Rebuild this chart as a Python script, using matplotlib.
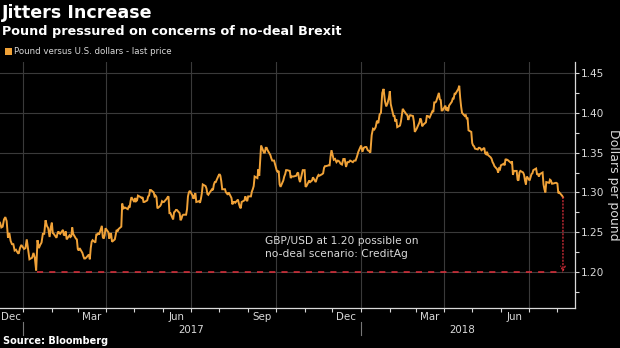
import matplotlib.pyplot as plt
import matplotlib.dates as mdates
import numpy as np
import pandas as pd

# GBP/USD daily closes, one list per calendar month
first_day = pd.Timestamp("2016-12-07")
last_day = pd.Timestamp("2018-08-07")
closes = {
    "2016-12": [1.2620, 1.2560, 1.2570, 1.2660, 1.2690, 1.2640, 1.2430, 1.2490, 1.2390,
                1.2350, 1.2350, 1.2270, 1.2280, 1.2250, 1.2230, 1.2300, 1.2340],
    "2017-01": [1.2290, 1.2300, 1.2410, 1.2280, 1.2160, 1.2170, 1.2180, 1.2240, 1.2180,
                1.2020, 1.2400, 1.2300, 1.2340, 1.2370, 1.2480, 1.2480, 1.2650, 1.2580,
                1.2550, 1.2440, 1.2570],
    "2017-02": [1.2620, 1.2490, 1.2480, 1.2430, 1.2480, 1.2510, 1.2490, 1.2480, 1.2530,
                1.2460, 1.2470, 1.2510, 1.2410, 1.2460, 1.2440, 1.2450, 1.2560, 1.2480,
                1.2420, 1.2410],
    "2017-03": [1.2290, 1.2270, 1.2300, 1.2240, 1.2200, 1.2170, 1.2170, 1.2180, 1.2220,
                1.2160, 1.2300, 1.2380, 1.2400, 1.2370, 1.2470, 1.2470, 1.2490, 1.2470,
                1.2580, 1.2440, 1.2420, 1.2460, 1.2550],
    "2017-04": [1.2500, 1.2420, 1.2480, 1.2480, 1.2380, 1.2410, 1.2470, 1.2530, 1.2510,
                1.2540, 1.2570, 1.2860, 1.2790, 1.2810, 1.2810, 1.2790, 1.2820, 1.2810,
                1.2890, 1.2940],
    "2017-05": [1.2880, 1.2930, 1.2890, 1.2900, 1.2960, 1.2940, 1.2930, 1.2940, 1.2880,
                1.2880, 1.2900, 1.2950, 1.2960, 1.3030, 1.3030, 1.3000, 1.2950, 1.2960,
                1.2940, 1.2800, 1.2830, 1.2850, 1.2890],
    "2017-06": [1.2880, 1.2880, 1.2920, 1.2940, 1.2950, 1.2740, 1.2740, 1.2660, 1.2750,
                1.2760, 1.2780, 1.2780, 1.2740, 1.2650, 1.2670, 1.2710, 1.2720, 1.2720,
                1.2790, 1.2950, 1.3000, 1.3020],
    "2017-07": [1.2960, 1.2920, 1.2960, 1.2990, 1.2880, 1.2890, 1.2870, 1.2920, 1.2990,
                1.3100, 1.3080, 1.3050, 1.2980, 1.2970, 1.2990, 1.3040, 1.3030, 1.3100,
                1.3130, 1.3130, 1.3210],
    "2017-08": [1.3230, 1.3210, 1.3140, 1.3040, 1.3040, 1.3000, 1.2990, 1.2970, 1.3000,
                1.2930, 1.2850, 1.2880, 1.2880, 1.2870, 1.2910, 1.2860, 1.2820, 1.2800,
                1.2880, 1.2900, 1.2950, 1.2910, 1.2890],
    "2017-09": [1.2950, 1.2950, 1.3010, 1.3040, 1.3080, 1.3200, 1.3180, 1.3290, 1.3210,
                1.3410, 1.3590, 1.3500, 1.3500, 1.3560, 1.3560, 1.3530, 1.3470, 1.3430,
                1.3400, 1.3400, 1.3400],
    "2017-10": [1.3270, 1.3260, 1.3270, 1.3100, 1.3070, 1.3150, 1.3200, 1.3230, 1.3280,
                1.3280, 1.3270, 1.3180, 1.3200, 1.3200, 1.3200, 1.3210, 1.3240, 1.3250,
                1.3170, 1.3130, 1.3280, 1.3280],
    "2017-11": [1.3280, 1.3070, 1.3080, 1.3150, 1.3130, 1.3140, 1.3150, 1.3190, 1.3130,
                1.3170, 1.3200, 1.3220, 1.3210, 1.3230, 1.3240, 1.3310, 1.3330, 1.3330,
                1.3340, 1.3340, 1.3450, 1.3530],
    "2017-12": [1.3480, 1.3410, 1.3420, 1.3380, 1.3400, 1.3390, 1.3360, 1.3350, 1.3420,
                1.3420, 1.3320, 1.3380, 1.3380, 1.3400, 1.3390, 1.3380, 1.3400, 1.3400,
                1.3450, 1.3510],
    "2018-01": [1.3590, 1.3510, 1.3560, 1.3570, 1.3570, 1.3530, 1.3520, 1.3500, 1.3720,
                1.3800, 1.3790, 1.3820, 1.3900, 1.3870, 1.3980, 1.4000, 1.4250, 1.4300,
                1.4150, 1.4080, 1.4120, 1.4190],
    "2018-02": [1.4270, 1.4110, 1.3960, 1.3960, 1.3890, 1.3920, 1.3820, 1.3840, 1.3890,
                1.3970, 1.4050, 1.4030, 1.3980, 1.3970, 1.3910, 1.3950, 1.3970, 1.3960,
                1.3890, 1.3760],
    "2018-03": [1.3780, 1.3800, 1.3880, 1.3930, 1.3900, 1.3830, 1.3850, 1.3880, 1.3960,
                1.3960, 1.3950, 1.3940, 1.4020, 1.4010, 1.4130, 1.4130, 1.4140, 1.4250,
                1.4170, 1.4160, 1.4030, 1.4030],
    "2018-04": [1.4090, 1.4030, 1.4070, 1.4020, 1.4090, 1.4140, 1.4180, 1.4180, 1.4240,
                1.4240, 1.4300, 1.4340, 1.4190, 1.4080, 1.4000, 1.3960, 1.3970, 1.3930,
                1.3930, 1.3780, 1.3760],
    "2018-05": [1.3620, 1.3590, 1.3580, 1.3550, 1.3540, 1.3560, 1.3560, 1.3550, 1.3530,
                1.3560, 1.3490, 1.3480, 1.3510, 1.3470, 1.3440, 1.3420, 1.3380, 1.3360,
                1.3330, 1.3290, 1.3250, 1.3300, 1.3290],
    "2018-06": [1.3340, 1.3360, 1.3340, 1.3420, 1.3410, 1.3410, 1.3380, 1.3370, 1.3390,
                1.3220, 1.3270, 1.3270, 1.3160, 1.3150, 1.3250, 1.3270, 1.3250, 1.3220,
                1.3150, 1.3100, 1.3200],
    "2018-07": [1.3150, 1.3190, 1.3230, 1.3240, 1.3280, 1.3300, 1.3230, 1.3230, 1.3200,
                1.3230, 1.3250, 1.3100, 1.3040, 1.3000, 1.3130, 1.3120, 1.3160, 1.3150,
                1.3110, 1.3110, 1.3120, 1.3120],
    "2018-08": [1.3110, 1.2990, 1.3000, 1.2960, 1.2940],
}
target = 1.20
target_from = pd.Timestamp("2017-01-16")

month_names = ["Dec", "Mar", "Jun", "Sep", "Dec", "Mar", "Jun"]
month_mids = pd.to_datetime(["2016-12-19", "2017-03-16", "2017-06-16", "2017-09-16",
                             "2017-12-16", "2018-03-16", "2018-06-16"])
years = ["2017", "2018"]
year_centres = pd.to_datetime(["2017-07-01", "2018-04-20"])
year_starts = pd.to_datetime(["2017-01-01", "2018-01-01"])

# spread each month's closes over its business days
dates, values = [], []
for month, vals in closes.items():
    start = max(pd.Timestamp(month + "-01"), first_day)
    end = min(pd.Timestamp(month + "-01") + pd.offsets.MonthEnd(0), last_day)
    days = pd.bdate_range(start, end)
    if len(days) == len(vals):
        pos = mdates.date2num(days)
    else:
        pos = np.linspace(mdates.date2num(days[0]), mdates.date2num(days[-1]), len(vals))
    dates.extend(pos)
    values.extend(vals)
dates = np.array(dates)
values = np.array(values)

orange = "#f0a238"
red = "#e0303c"
grey = "#d9d9d9"
gridc = "#3a3a3a"

fig = plt.figure(figsize=(6.2, 3.48), dpi=100, facecolor="black")
ax = fig.add_axes([0.0, 0.1149, 0.9274, 0.7069], facecolor="black")

ax.plot(dates, values, color=orange, lw=1.4, solid_joinstyle="miter")

# CreditAg scenario: dashed floor plus dotted drop from the last price
ax.plot([mdates.date2num(target_from), dates[-1]], [target, target],
        color=red, lw=1.1, ls=(0, (4, 4)))
ax.annotate("", xy=(dates[-1], target), xytext=(dates[-1], values[-1]),
            arrowprops=dict(arrowstyle="->", color=red, lw=0.9, ls=":",
                            shrinkA=0, shrinkB=0, mutation_scale=8))
ax.text(mdates.date2num(pd.Timestamp("2017-09-19")), 1.231,
        "GBP/USD at 1.20 possible on\nno-deal scenario: CreditAg",
        color=grey, fontsize=7.7, ha="left", va="center", linespacing=1.3)

ax.set_xlim(mdates.date2num(first_day), mdates.date2num(pd.Timestamp("2018-08-20")))
ax.set_ylim(1.1548, 1.4638)

# quarterly gridlines, monthly ticks
ax.xaxis.set_major_locator(mdates.MonthLocator(bymonth=[1, 4, 7, 10]))
ax.xaxis.set_minor_locator(mdates.MonthLocator())
ax.xaxis.set_major_formatter(plt.NullFormatter())
ax.tick_params(axis="x", which="both", length=3, color=grey, width=0.8)

ax.yaxis.tick_right()
ax.set_yticks(np.arange(1.20, 1.4501, 0.05))
ax.set_yticks(np.arange(1.175, 1.46, 0.05), minor=True)
ax.yaxis.set_major_formatter(plt.FormatStrFormatter("%.2f"))
ax.tick_params(axis="y", which="both", length=3, color=grey, width=0.8,
               labelcolor=grey, labelsize=7.6, pad=1.5)

ax.grid(True, which="major", color=gridc, lw=0.8)
for side in ["top", "left"]:
    ax.spines[side].set_visible(False)
for side in ["bottom", "right"]:
    ax.spines[side].set_color(grey)
    ax.spines[side].set_linewidth(0.9)

trans = ax.get_xaxis_transform()
for name, mid in zip(month_names, month_mids):
    ax.text(mdates.date2num(mid), -0.018, name, transform=trans, color=grey,
            fontsize=7.4, ha="center", va="top")
for year, centre in zip(years, year_centres):
    ax.text(mdates.date2num(centre), -0.07, year, transform=trans, color=grey,
            fontsize=7.4, ha="center", va="top")
for start in year_starts:
    ax.plot([mdates.date2num(start)] * 2, [-0.055, -0.11], transform=trans,
            color="#777777", lw=0.8, clip_on=False)

ax.yaxis.set_label_position("right")
ax.set_ylabel("Dollars per pound", color=grey, fontsize=9, rotation=270,
              labelpad=11)

fig.text(0.003, 0.962, "Jitters Increase", color="white", fontsize=12.6,
         fontweight="bold", ha="left", va="center")
fig.text(0.003, 0.91, "Pound pressured on concerns of no-deal Brexit", color="white",
         fontsize=9.2, fontweight="bold", ha="left", va="center")
fig.patches.append(plt.Rectangle((0.008, 0.843), 0.011, 0.02, transform=fig.transFigure,
                                 facecolor=orange, edgecolor="none"))
fig.text(0.022, 0.853, "Pound versus U.S. dollars - last price", color=grey,
         fontsize=6.2, ha="left", va="center")
fig.text(0.005, 0.02, "Source: Bloomberg", color="white", fontsize=7,
         fontweight="bold", ha="left", va="center")

fig.savefig("out.png", dpi=100, facecolor="black")
